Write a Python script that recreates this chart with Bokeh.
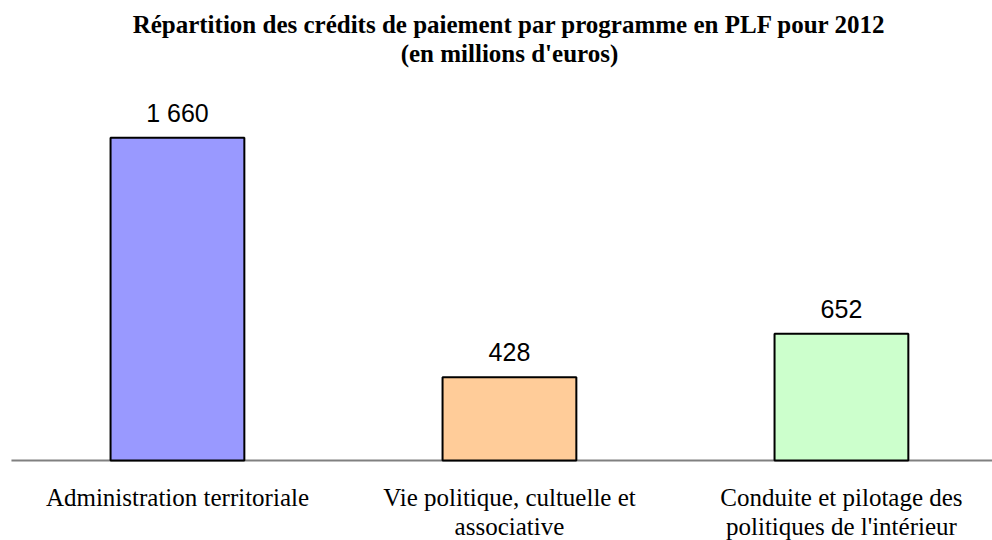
from bokeh.plotting import figure
from bokeh.models import ColumnDataSource, Range1d, Label
from bokeh.core.properties import value
from bokeh.embed import file_html
from bokeh.resources import INLINE

# Data
categories = ["Administration territoriale",
              "Vie politique, cultuelle et\nassociative",
              "Conduite et pilotage des\npolitiques de l'intérieur"]
values = [1660, 428, 652]
colors = ["#9999FF", "#FFCC99", "#CCFFCC"]
title_lines = ["Répartition des crédits de paiement par programme en PLF pour 2012",
               "(en millions d'euros)"]

xs = list(range(len(categories)))
labels = [f"{v:,}".replace(",", " ") for v in values]
src = ColumnDataSource(dict(x=xs, top=values, color=colors, label=labels,
                            cat=categories, base=[0] * len(xs)))

p = figure(width=992, height=540, output_backend="svg", toolbar_location=None,
           x_range=Range1d(-0.533, 2.455), y_range=Range1d(-411, 2365),
           min_border_left=0, min_border_right=0, min_border_top=0, min_border_bottom=0)
p.title.visible = False
p.outline_line_color = None
p.background_fill_color = "white"
p.border_fill_color = "white"
p.xgrid.visible = False
p.ygrid.visible = False
p.xaxis.visible = False
p.yaxis.visible = False

# category axis line
p.segment(x0=-0.5, y0=0, x1=2.455, y1=0, line_color="#808080", line_width=2)

p.vbar(x="x", top="top", bottom=0, width=0.403, source=src,
       fill_color="color", line_color="black", line_width=2)

# value labels
p.text(x="x", y="top", text="label", source=src, y_offset=-25,
       text_align="center", text_baseline="alphabetic",
       text_font=value("Liberation Sans"), text_font_size="25px", text_color="black")

# category labels
p.text(x="x", y="base", text="cat", source=src, y_offset=23,
       text_align="center", text_baseline="top", text_line_height=1.1,
       text_font=value("Liberation Serif"), text_font_size="25px", text_color="black")

# two-line title (centred above the middle category)
for t, yy in zip(title_lines, [2241, 2092]):
    p.add_layout(Label(x=1.0, y=yy, text=t,
                       text_align="center", text_baseline="alphabetic",
                       text_font="Liberation Serif", text_font_style="bold",
                       text_font_size="25px", text_color="black"))

open("out.html", "w").write(file_html(p, INLINE))
